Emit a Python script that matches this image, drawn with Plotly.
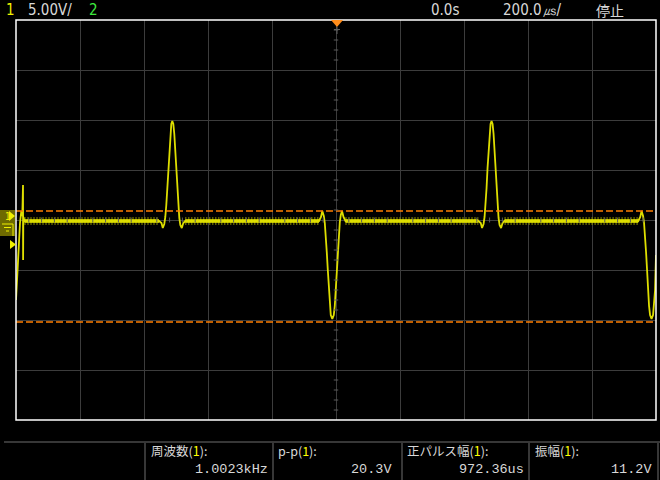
import plotly.graph_objects as go

# ---------------- data (time in microseconds, voltage in volts) ----------------
time_us = [
    -1000.0, -996.9, -993.8, -990.6, -987.5, -983.4, -980.3, -978.1, -977.8, -977.2, -973.4,
    -553.1, -545.3, -541.3, -536.6, -533.4, -530.3, -527.2, -524.1, -520.9, -517.8, -514.7,
    -511.6, -508.4, -505.3, -502.2, -499.1, -495.9, -492.8, -489.7, -486.6, -481.9, -477.2, -470.9,
    -53.1, -46.9, -42.8, -38.1, -35.0, -31.9, -28.8, -25.6, -22.5, -19.4, -16.3,
    -11.6, -6.9, -3.8, -0.6, 2.5, 5.6, 8.8, 11.9, 15.0, 18.8, 23.4, 29.7,
    444.6, 452.4, 456.4, 461.1, 464.3, 467.4, 470.5, 473.6, 476.8, 479.9, 483.0,
    486.1, 489.3, 492.4, 495.5, 498.6, 501.8, 504.9, 508.0, 511.1, 515.8, 520.5, 526.8,
    944.6, 950.8, 954.9, 959.6, 962.7, 965.8, 968.9, 972.1, 975.2, 978.3, 981.4,
    986.1, 990.8, 993.9, 997.1, 1000.0,
]
volts = [
    -8.0, -6.0, -4.0, -2.0, -0.3, 0.9, 0.4, 3.5, -4.0, 0.3, -0.1,
    -0.1, -0.3, -0.8, -0.4, 0.3, 1.5, 3.2, 5.2, 7.2, 8.7, 9.6,
    9.9, 9.6, 8.6, 7.0, 5.0, 3.0, 1.3, 0.2, -0.5, -0.8, -0.3, -0.1,
    -0.1, 0.3, 0.9, 0.4, -0.3, -1.5, -3.2, -5.0, -7.0, -8.6, -9.5,
    -9.9, -9.5, -8.6, -7.0, -5.0, -3.0, -1.3, -0.2, 0.5, 0.9, 0.3, -0.1,
    -0.1, -0.3, -0.8, -0.4, 0.3, 1.5, 3.2, 5.2, 7.2, 8.7, 9.6,
    9.9, 9.6, 8.6, 7.0, 5.0, 3.0, 1.3, 0.2, -0.5, -0.8, -0.3, -0.1,
    -0.1, 0.3, 0.9, 0.4, -0.3, -1.5, -3.2, -5.0, -7.0, -8.6, -9.5,
    -9.9, -9.5, -8.6, -7.0, -3.5,
]
# flat (noisy) baseline stretches: start / end times
flat_start_us = [-973.4, -470.9, 29.7, 526.8]
flat_end_us = [-553.1, -53.1, 444.6, 944.6]
baseline_v = -0.1

cursor_levels_v = [0.9, -10.2]          # top / base cursors

# header
header_channel = "1"
header_scale = "5.00V/"
header_ch2 = "2"
header_delay = "0.0s"
header_timebase = "200.0㎲/"
header_state = "停止"

# measurements
meas_names = ["周波数", "p-p", "正パルス幅", "振幅"]
meas_values = ["1.0023kHz", "20.3V", "972.36us", "11.2V"]

# ---------------- layout geometry ----------------
W, H = 660, 480
ML, MR, MT, MB = 16, 4, 20, 60
PW, PH = W - ML - MR, H - MT - MB


def pxx(x):
    return (x - ML) / PW


def pxy(y):
    return (H - MB - y) / PH


YEL = "#f0f000"
fig = go.Figure()

# baseline noise (olive spikes) and bright band
bx, by = [], []
for s, e in zip(flat_start_us, flat_end_us):
    bx += [s, e, None]
    by += [baseline_v, baseline_v, None]
fig.add_trace(go.Scatter(x=bx, y=by, mode="lines",
                         line=dict(color="#8a8a00", width=8, dash="1px,2px"),
                         hoverinfo="skip", showlegend=False))
fig.add_trace(go.Scatter(x=bx, y=by, mode="lines",
                         line=dict(color=YEL, width=3.5),
                         hoverinfo="skip", showlegend=False))
# waveform
fig.add_trace(go.Scatter(x=time_us, y=volts, mode="lines",
                         line=dict(color="#dede00", width=1.8),
                         hoverinfo="skip", showlegend=False))

shapes = []
# cursor lines
for lv in cursor_levels_v:
    shapes.append(dict(type="line", xref="paper", yref="y", x0=0, x1=1, y0=lv, y1=lv,
                       line=dict(color="#ff7f00", width=1.5, dash="7px,3px")))

# minor ticks on centre axes
for k in range(-20, 21):
    if k % 5 != 0:
        shapes.append(dict(type="line", xref="x", yref="y", x0=-7, x1=7, y0=k, y1=k,
                           line=dict(color="#5a5a5a", width=1)))
for k in range(-25, 26):
    if k % 5 != 0:
        shapes.append(dict(type="line", xref="x", yref="y", x0=k * 40, x1=k * 40, y0=-0.25, y1=0.25,
                           line=dict(color="#5a5a5a", width=1)))

# graticule border
shapes.append(dict(type="rect", xref="paper", yref="paper", x0=0, x1=1, y0=0, y1=1,
                   line=dict(color="#ffffff", width=1.5)))

# bottom measurement frame
shapes.append(dict(type="line", xref="paper", yref="paper", x0=pxx(4), x1=pxx(660),
                   y0=pxy(442), y1=pxy(442), line=dict(color="#4a4a4a", width=1.5)))
for sx in [145, 273, 402, 529, 658]:
    shapes.append(dict(type="line", xref="paper", yref="paper", x0=pxx(sx), x1=pxx(sx),
                       y0=pxy(443), y1=pxy(480), line=dict(color="#4a4a4a", width=1.5)))

# trigger position marker (top)
shapes.append(dict(type="path", xref="paper", yref="paper",
                   path=f"M {pxx(331)} {pxy(20)} L {pxx(343)} {pxy(20)} L {pxx(337)} {pxy(27)} Z",
                   fillcolor="#ff8c1a", line=dict(width=0)))
shapes.append(dict(type="line", xref="paper", yref="paper", x0=pxx(337), x1=pxx(337),
                   y0=pxy(27), y1=pxy(34), line=dict(color="#606060", width=1)))
shapes.append(dict(type="line", xref="paper", yref="paper", x0=pxx(334), x1=pxx(340),
                   y0=pxy(29.5), y1=pxy(29.5), line=dict(color="#606060", width=1)))

# channel 1 ground marker box
shapes.append(dict(type="rect", xref="paper", yref="paper", x0=pxx(0), x1=pxx(15),
                   y0=pxy(236), y1=pxy(210), fillcolor="#6e6a00", line=dict(width=0)))
shapes.append(dict(type="path", xref="paper", yref="paper",
                   path=f"M {pxx(9)} {pxy(211)} L {pxx(15)} {pxy(216)} L {pxx(9)} {pxy(221)} Z",
                   fillcolor=YEL, line=dict(width=0)))
shapes.append(dict(type="line", xref="paper", yref="paper", x0=pxx(2), x1=pxx(13),
                   y0=pxy(224), y1=pxy(224), line=dict(color=YEL, width=1)))
shapes.append(dict(type="line", xref="paper", yref="paper", x0=pxx(4), x1=pxx(11),
                   y0=pxy(227.5), y1=pxy(227.5), line=dict(color=YEL, width=1)))
shapes.append(dict(type="line", xref="paper", yref="paper", x0=pxx(6), x1=pxx(9),
                   y0=pxy(231), y1=pxy(231), line=dict(color=YEL, width=1)))
shapes.append(dict(type="line", xref="paper", yref="paper", x0=pxx(13), x1=pxx(13),
                   y0=pxy(224), y1=pxy(236), line=dict(color=YEL, width=1)))
# trigger level marker (left)
shapes.append(dict(type="path", xref="paper", yref="paper",
                   path=f"M {pxx(10)} {pxy(240)} L {pxx(16)} {pxy(244.5)} L {pxx(10)} {pxy(249)} Z",
                   fillcolor=YEL, line=dict(width=0)))

ann = []
HF = "Liberation Sans Narrow, DejaVu Sans Condensed, Arial Narrow, sans-serif"
CJK = "Noto Sans CJK JP, sans-serif"
MONO = "Liberation Mono, DejaVu Sans Mono, monospace"


def text(x, y, s, color="#d8d8d8", size=15, family=HF, anchor="left"):
    ann.append(dict(xref="paper", yref="paper", x=pxx(x), y=pxy(y), text=s, showarrow=False,
                    xanchor=anchor, yanchor="middle", borderpad=0,
                    font=dict(color=color, size=size, family=family)))


text(5, 10, header_channel, color=YEL)
text(27, 10, header_scale)
text(88, 10, header_ch2, color="#3ee83e")
text(430, 10, header_delay)
text(502, 10, header_timebase)
text(595, 10, header_state, size=14, family=CJK)
text(3.5, 216, "1", color=YEL, size=10, family=HF)

name_x = [150, 277, 406, 534]
value_x = [269, 393, 525, 653]
for nx, vx, n, v in zip(name_x, value_x, meas_names, meas_values):
    text(nx, 450, n + "(<span style='color:#ffff00'>1</span>):", size=12.5, family=CJK)
    text(vx, 469, v, size=13.5, family=MONO, anchor="right")

fig.update_layout(
    width=W, height=H,
    margin=dict(l=ML, r=MR, t=MT, b=MB, pad=0),
    paper_bgcolor="#000000", plot_bgcolor="#000000",
    xaxis=dict(range=[-1000, 1000], tick0=0, dtick=200, showgrid=True, gridcolor="#3c3c3c",
               gridwidth=1, zeroline=False, showticklabels=False, showline=False, fixedrange=True),
    yaxis=dict(range=[-20, 20], tick0=0, dtick=5, showgrid=True, gridcolor="#3c3c3c",
               gridwidth=1, zeroline=False, showticklabels=False, showline=False, fixedrange=True),
    shapes=shapes, annotations=ann, showlegend=False,
)

fig.write_html(
    "out.html",
    config={"displayModeBar": False},
    post_script="document.body.style.margin='0px';document.body.style.background='#000';",
)
